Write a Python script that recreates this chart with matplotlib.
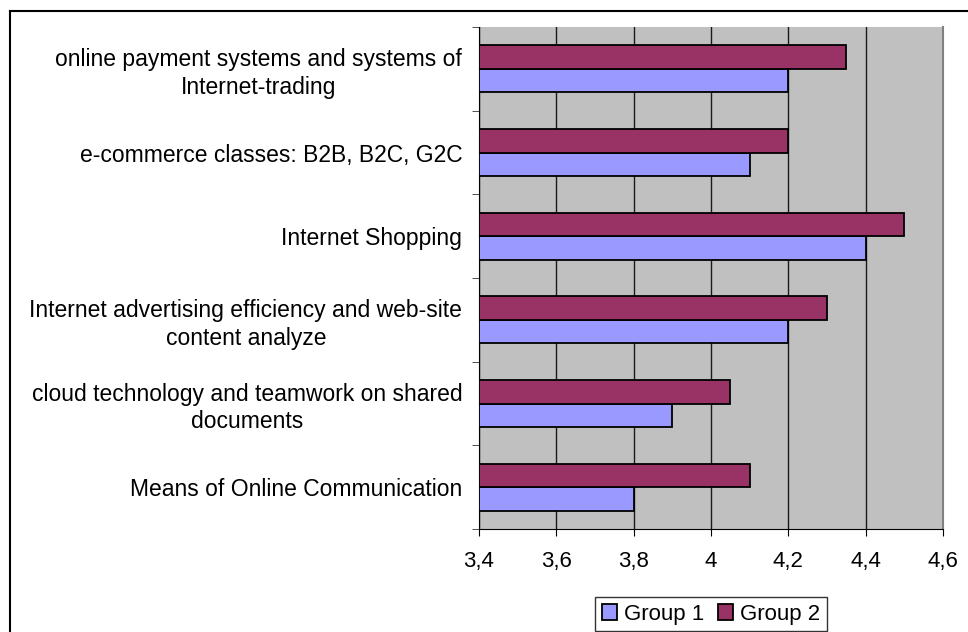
import matplotlib
matplotlib.use("Agg")
import matplotlib.pyplot as plt
from matplotlib.lines import Line2D
import numpy as np

categories = [
    "Means of Online Communication",
    "cloud technology and teamwork on shared\ndocuments",
    "Internet advertising efficiency and web-site\ncontent analyze",
    "Internet Shopping",
    "e-commerce classes: B2B, B2C, G2C",
    "online payment systems and systems of\nInternet-trading",
]
group1 = [3.8, 3.9, 4.2, 4.4, 4.1, 4.2]
group2 = [4.1, 4.05, 4.3, 4.5, 4.2, 4.35]
series_names = ["Group 1", "Group 2"]
xticks = [3.4, 3.6, 3.8, 4.0, 4.2, 4.4, 4.6]
xtick_labels = ["3,4", "3,6", "3,8", "4", "4,2", "4,4", "4,6"]

plt.rcParams['font.family'] = ['Liberation Sans', 'DejaVu Sans']

W, H = 968, 632
fig = plt.figure(figsize=(W / 100, H / 100), dpi=100)
ax = fig.add_axes([479 / W, 1 - 529 / H, (943 - 479) / W, (529 - 27) / H])
ax.set_facecolor("#c0c0c0")

y = np.arange(len(categories))
h = 0.28
ax.barh(y - h / 2, [v - 3.4 for v in group1], left=3.4, height=h, color="#9999ff",
        edgecolor="black", linewidth=1.3, label=series_names[0], zorder=3)
ax.barh(y + h / 2, [v - 3.4 for v in group2], left=3.4, height=h, color="#993366",
        edgecolor="black", linewidth=1.3, label=series_names[1], zorder=3)

ax.set_xlim(3.4, 4.6)
ax.set_ylim(-0.5, len(categories) - 0.5)
ax.set_xticks(xticks)
ax.set_xticklabels(xtick_labels, fontsize=16)
ax.xaxis.grid(True, color="#1a1a1a", linewidth=1.0, zorder=1)
ax.set_axisbelow(True)

ax.set_yticks(y)
ax.set_yticklabels(categories, fontsize=16.5, multialignment="center", linespacing=1.25)
ax.tick_params(axis="y", length=0, pad=12)
ax.set_yticks(np.arange(-0.5, len(categories), 1.0), minor=True)
ax.tick_params(axis="y", which="minor", length=5, direction="out", color="#333333")
ax.tick_params(axis="x", length=5, direction="out", pad=11)

ax.spines["right"].set_color("#808080")
ax.spines["right"].set_linewidth(1.5)
ax.spines["top"].set_visible(False)
ax.spines["left"].set_color("black")
ax.spines["bottom"].set_color("black")

# outer chart border (top and left visible)
fig.add_artist(Line2D([10 / W, 10 / W], [0, 1 - 11 / H], transform=fig.transFigure,
                      color="black", linewidth=1.5))
fig.add_artist(Line2D([10 / W, 1], [1 - 11 / H, 1 - 11 / H], transform=fig.transFigure,
                      color="black", linewidth=1.5))

leg = fig.legend(loc="upper center", bbox_to_anchor=(711 / W, 1 - 586 / H), ncol=2,
                 fontsize=16, frameon=True, fancybox=False, edgecolor="black",
                 handlelength=0.7, handleheight=0.7, handletextpad=0.3,
                 columnspacing=0.6, borderpad=0.3)
leg.get_frame().set_linewidth(1.0)

fig.savefig("out.png", dpi=100)
